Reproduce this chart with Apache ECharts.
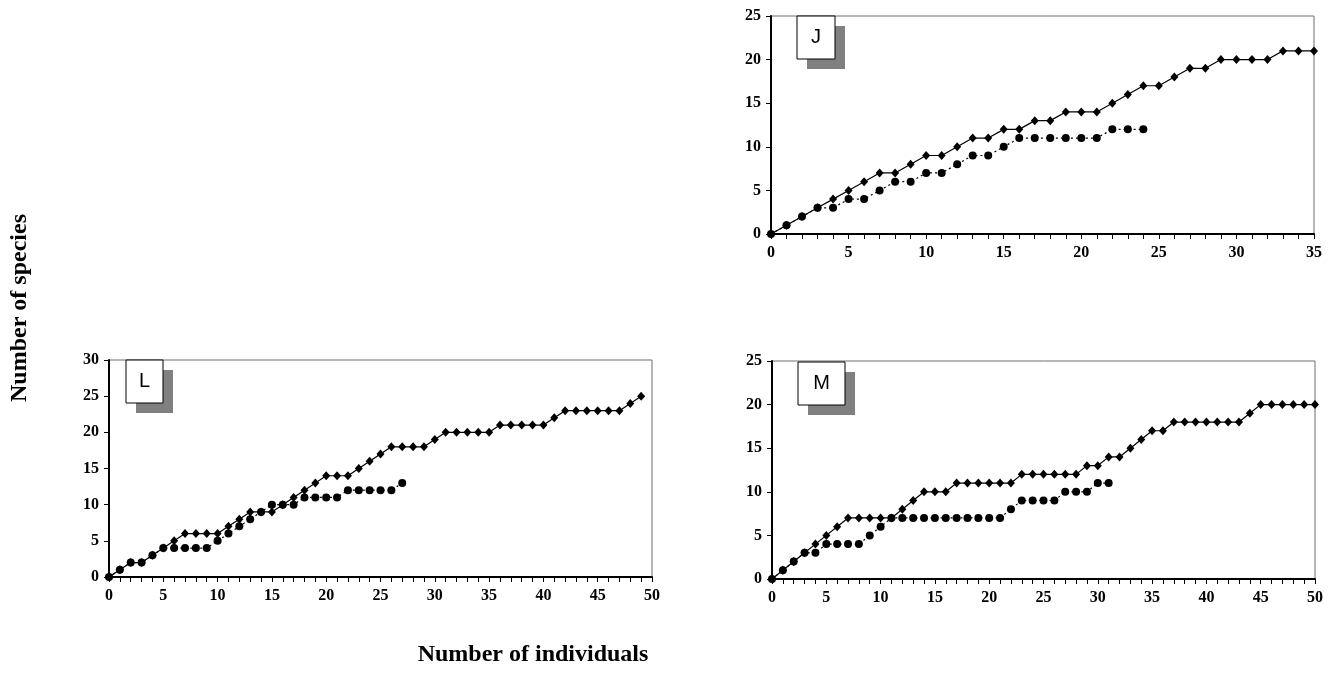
<!DOCTYPE html>
<html>
<head>
<meta charset="utf-8">
<script src="https://cdn.jsdelivr.net/npm/echarts@6/dist/echarts.min.js"></script>
<style>
  html, body { margin: 0; padding: 0; background: #fff; }
  #chart { width: 1338px; height: 691px; }
</style>
</head>
<body>
<div id="chart"></div>
<script>
// species accumulation, index = number of individuals
var jSolid  = [0,1,2,3,4,5,6,7,7,8,9,9,10,11,11,12,12,13,13,14,14,14,15,16,17,17,18,19,19,20,20,20,20,21,21,21];
var jDotted = [0,1,2,3,3,4,4,5,6,6,7,7,8,9,9,10,11,11,11,11,11,11,12,12,12];
var lSolid  = [0,1,2,2,3,4,5,6,6,6,6,7,8,9,9,9,10,11,12,13,14,14,14,15,16,17,18,18,18,18,19,20,20,20,20,20,21,21,21,21,21,22,23,23,23,23,23,23,24,25];
var lDotted = [0,1,2,2,3,4,4,4,4,4,5,6,7,8,9,10,10,10,11,11,11,11,12,12,12,12,12,13];
var mSolid  = [0,1,2,3,4,5,6,7,7,7,7,7,8,9,10,10,10,11,11,11,11,11,11,12,12,12,12,12,12,13,13,14,14,15,16,17,17,18,18,18,18,18,18,18,19,20,20,20,20,20,20];
var mDotted = [0,1,2,3,3,4,4,4,4,5,6,7,7,7,7,7,7,7,7,7,7,7,8,9,9,9,9,10,10,10,11,11];

var panelNames = ['J', 'L', 'M'];
var xMax = [35, 50, 50];
var yMax = [25, 30, 25];

var chart = echarts.init(document.getElementById('chart'));

var tickFont = {
  fontFamily: 'Liberation Serif',
  fontWeight: 'bold',
  fontSize: 16,
  color: '#000'
};

// grid boxes
var grids = [
  {left: 771, top: 16, width: 543, height: 218},
  {left: 109, top: 360, width: 543, height: 217},
  {left: 772, top: 361, width: 543, height: 218}
];

function toPoints(arr) {
  return arr.map(function (v, i) { return [i, v]; });
}

var xAxes = [], yAxes = [];
for (var i = 0; i < 3; i++) {
  xAxes.push({
    type: 'value',
    gridIndex: i,
    min: 0,
    max: xMax[i],
    interval: 5,
    axisLine: {show: true, onZero: false, lineStyle: {color: '#000', width: 2}},
    axisTick: {show: true, inside: false, length: 5, lineStyle: {color: '#000', width: 1}},
    minorTick: {show: true, splitNumber: 5, length: 5, lineStyle: {color: '#000', width: 1}},
    splitLine: {show: false},
    axisLabel: Object.assign({margin: 11}, tickFont)
  });
  yAxes.push({
    type: 'value',
    gridIndex: i,
    min: 0,
    max: yMax[i],
    interval: 5,
    axisLine: {show: true, onZero: false, lineStyle: {color: '#000', width: 2}},
    axisTick: {show: true, inside: false, length: 5, lineStyle: {color: '#000', width: 1}},
    splitLine: {show: false},
    axisLabel: Object.assign({margin: 10}, tickFont)
  });
}

function solidSeries(idx, arr) {
  return {
    type: 'line',
    xAxisIndex: idx,
    yAxisIndex: idx,
    data: toPoints(arr),
    symbol: 'diamond',
    symbolSize: [8, 9],
    showAllSymbol: true,
    itemStyle: {color: '#000'},
    lineStyle: {color: '#000', width: 1.2},
    z: 3,
    animation: false
  };
}

function dottedSeries(idx, arr) {
  return {
    type: 'line',
    xAxisIndex: idx,
    yAxisIndex: idx,
    data: toPoints(arr),
    symbol: 'circle',
    symbolSize: 8,
    showAllSymbol: true,
    itemStyle: {color: '#000'},
    lineStyle: {color: '#000', width: 1.2, type: [2, 3]},
    z: 4,
    animation: false
  };
}

// letter boxes with grey drop shadow
var boxPos = [
  {x: 797, y: 16, w: 38, h: 43},
  {x: 126, y: 360, w: 37, h: 43},
  {x: 798, y: 362, w: 47, h: 43}
];
var graphics = [];
boxPos.forEach(function (b, k) {
  graphics.push({
    type: 'rect',
    shape: {x: b.x + 10, y: b.y + 10, width: b.w, height: b.h},
    style: {fill: '#808080'},
    z: 10
  });
  graphics.push({
    type: 'rect',
    shape: {x: b.x, y: b.y, width: b.w, height: b.h},
    style: {fill: '#fff', stroke: '#000', lineWidth: 1},
    z: 11
  });
  graphics.push({
    type: 'text',
    x: b.x + b.w / 2,
    y: b.y + b.h / 2,
    style: {
      text: panelNames[k],
      fontFamily: 'Liberation Sans',
      fontSize: 20,
      fill: '#000',
      align: 'center',
      verticalAlign: 'middle'
    },
    z: 12
  });
});

// axis titles
graphics.push({
  type: 'text',
  x: 533,
  y: 655,
  style: {
    text: 'Number of individuals',
    fontFamily: 'Liberation Serif',
    fontWeight: 'bold',
    fontSize: 24,
    fill: '#000',
    align: 'center',
    verticalAlign: 'middle'
  }
});
graphics.push({
  type: 'text',
  x: 20,
  y: 308,
  rotation: Math.PI / 2,
  style: {
    text: 'Number of species',
    fontFamily: 'Liberation Serif',
    fontWeight: 'bold',
    fontSize: 24,
    fill: '#000',
    align: 'center',
    verticalAlign: 'middle'
  }
});

chart.setOption({
  backgroundColor: '#fff',
  animation: false,
  grid: grids.map(function (g) {
    return Object.assign({show: true, borderColor: '#6e6e6e', borderWidth: 1, backgroundColor: 'transparent', containLabel: false}, g);
  }),
  xAxis: xAxes,
  yAxis: yAxes,
  series: [
    solidSeries(0, jSolid),
    dottedSeries(0, jDotted),
    solidSeries(1, lSolid),
    dottedSeries(1, lDotted),
    solidSeries(2, mSolid),
    dottedSeries(2, mDotted)
  ],
  graphic: graphics
});
</script>
</body>
</html>
